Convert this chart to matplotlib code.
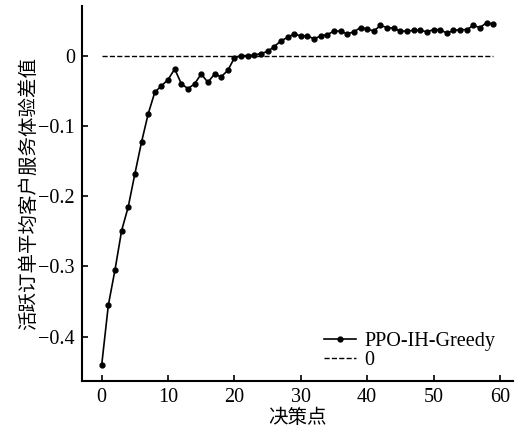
import numpy as np
import matplotlib
matplotlib.use('Agg')
import matplotlib.pyplot as plt

plt.rcParams['font.family'] = ['Liberation Serif', 'Noto Sans CJK SC', 'DejaVu Sans']

# decision points and value difference
steps = list(range(60))
ppo_ih_greedy = [
    -0.440, -0.355, -0.305, -0.249, -0.215, -0.168, -0.123, -0.083, -0.052, -0.043,
    -0.034, -0.019, -0.040, -0.047, -0.040, -0.026, -0.038, -0.026, -0.030, -0.021,
    -0.003, 0.000, 0.000, 0.001, 0.003, 0.006, 0.013, 0.021, 0.026, 0.031,
    0.028, 0.028, 0.024, 0.028, 0.030, 0.035, 0.035, 0.031, 0.034, 0.040,
    0.038, 0.035, 0.043, 0.040, 0.039, 0.035, 0.035, 0.036, 0.036, 0.034,
    0.037, 0.037, 0.032, 0.036, 0.037, 0.037, 0.043, 0.040, 0.047, 0.045,
]
zero_line = [0.0] * 60

fig, ax = plt.subplots(figsize=(5.21, 4.32), dpi=100)
fig.subplots_adjust(left=0.157, right=0.985, top=0.985, bottom=0.118)

ax.plot(steps, ppo_ih_greedy, color='black', linewidth=1.2, marker='o',
        markersize=3.5, label='PPO-IH-Greedy')
ax.plot(steps, zero_line, color='black', linestyle='--', linewidth=1.0, label='0')

ax.set_xlim(-3, 62)
ax.set_ylim(-0.463, 0.07)
ax.set_xticks([0, 10, 20, 30, 40, 50, 60])
ax.set_yticks([0, -0.1, -0.2, -0.3, -0.4])
ax.set_yticklabels(['0', '\u22120.1', '\u22120.2', '\u22120.3', '\u22120.4'])

ax.spines['top'].set_visible(False)
ax.spines['right'].set_visible(False)
ax.spines['left'].set_linewidth(1.5)
ax.spines['bottom'].set_linewidth(1.5)
ax.tick_params(direction='in', length=4, width=1.2, labelsize=14.5, pad=5)

ax.set_xlabel('决策点', fontsize=14, labelpad=1)
ax.set_ylabel('活跃订单平均客户服务体验差值', fontsize=14, labelpad=0)

ax.legend(loc='lower right', frameon=False, fontsize=14.5, handlelength=1.6,
          handletextpad=0.4, labelspacing=0.0, bbox_to_anchor=(1.0, -0.02))

plt.savefig('out.png', dpi=100)
